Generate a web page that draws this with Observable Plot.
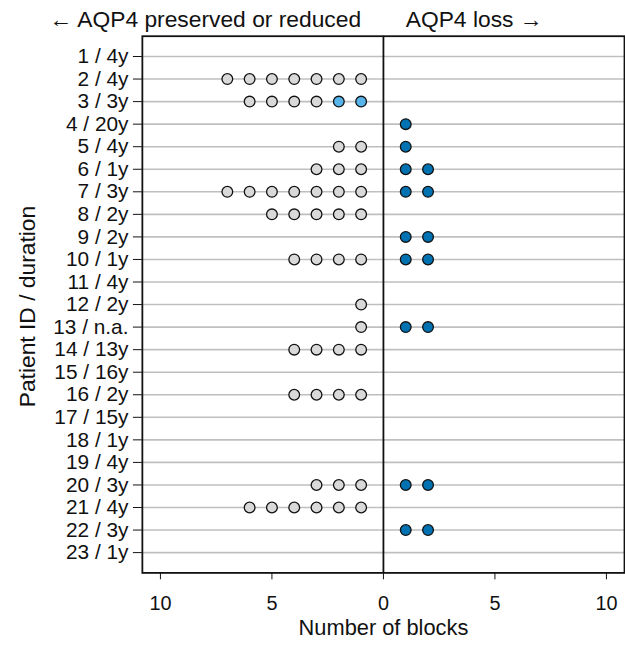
<!DOCTYPE html>
<html>
<head>
<meta charset="utf-8">
<script src="https://cdn.jsdelivr.net/npm/d3@7"></script>
<script src="https://cdn.jsdelivr.net/npm/@observablehq/plot@0.6"></script>
<style>
  html, body { margin: 0; padding: 0; overflow: hidden; background: #fff; }
  svg { display: block; }
</style>
</head>
<body>
<div id="chart"></div>
<script>
const patients = ["1 / 4y","2 / 4y","3 / 3y","4 / 20y","5 / 4y","6 / 1y","7 / 3y","8 / 2y","9 / 2y","10 / 1y","11 / 4y","12 / 2y","13 / n.a.","14 / 13y","15 / 16y","16 / 2y","17 / 15y","18 / 1y","19 / 4y","20 / 3y","21 / 4y","22 / 3y","23 / 1y"];
const reducedBlocks   = [0,0,2,0,0,0,0,0,0,0,0,0,0,0,0,0,0,0,0,0,0,0,0];
const preservedBlocks = [0,7,4,0,2,3,7,5,0,4,0,1,1,4,0,4,0,0,0,3,6,0,0];
const lossBlocks      = [0,0,0,1,1,2,2,0,2,2,0,0,2,0,0,0,0,0,0,2,0,2,0];
const xTicks = [-10, -5, 0, 5, 10];
const leftLabel = "\u2190 AQP4 preserved or reduced";
const rightLabel = "AQP4 loss \u2192";
const xTitle = "Number of blocks";
const yTitle = "Patient ID / duration";

const colors = {reduced: "#56B4E9", preserved: "#d9d9d9", loss: "#0072B2"};

const points = [];
patients.forEach((p, i) => {
  let k = 0;
  for (let j = 0; j < reducedBlocks[i]; j++) points.push({patient: p, x: -(++k), type: "reduced"});
  for (let j = 0; j < preservedBlocks[i]; j++) points.push({patient: p, x: -(++k), type: "preserved"});
  for (let j = 1; j <= lossBlocks[i]; j++) points.push({patient: p, x: j, type: "loss"});
});

const font = "'Liberation Sans', Arial, Helvetica, sans-serif";

const chart = Plot.plot({
  width: 630,
  height: 646,
  marginLeft: 143,
  marginRight: 1,
  marginTop: 36,
  marginBottom: 69,
  style: {fontFamily: font, fontSize: "20px", color: "#111", background: "#fff"},
  x: {domain: [-10.81, 10.81], ticks: xTicks, tickFormat: d => Math.abs(d), label: null},
  y: {type: "point", domain: patients, padding: 0.9, round: false, label: null},
  marks: [
    Plot.ruleY(patients, {y: d => d, stroke: "#bfbfbf", strokeWidth: 1.6}),
    Plot.ruleX([0], {stroke: "#111", strokeWidth: 1.8}),
    Plot.frame({stroke: "#111", strokeWidth: 1.8}),
    Plot.axisY({tickSize: 9, tickPadding: 5, fontSize: 21, label: null, stroke: "#111"}),
    Plot.axisX({ticks: xTicks, tickFormat: d => Math.abs(d), tickSize: 7, tickPadding: 16, fontSize: 20, label: null}),
    Plot.dot(points, {x: "x", y: "patient", r: 5.4, fill: d => colors[d.type], stroke: "#111", strokeWidth: 1.3}),
    Plot.text([leftLabel], {x: -1, frameAnchor: "top", text: d => d, textAnchor: "end", lineAnchor: "bottom", dy: -9, fontSize: 23, fill: "#111"}),
    Plot.text([rightLabel], {x: 1, frameAnchor: "top", text: d => d, textAnchor: "start", lineAnchor: "bottom", dy: -9, fontSize: 23, fill: "#111"}),
    Plot.text([xTitle], {x: 0, frameAnchor: "bottom", text: d => d, lineAnchor: "middle", dy: 56, fontSize: 22, fill: "#111"}),
    Plot.text([yTitle], {frameAnchor: "left", text: d => d, textAnchor: "middle", rotate: -90, dx: -116, dy: 2, fontSize: 23, fill: "#111"})
  ]
});
document.getElementById("chart").appendChild(chart);
</script>
</body>
</html>
